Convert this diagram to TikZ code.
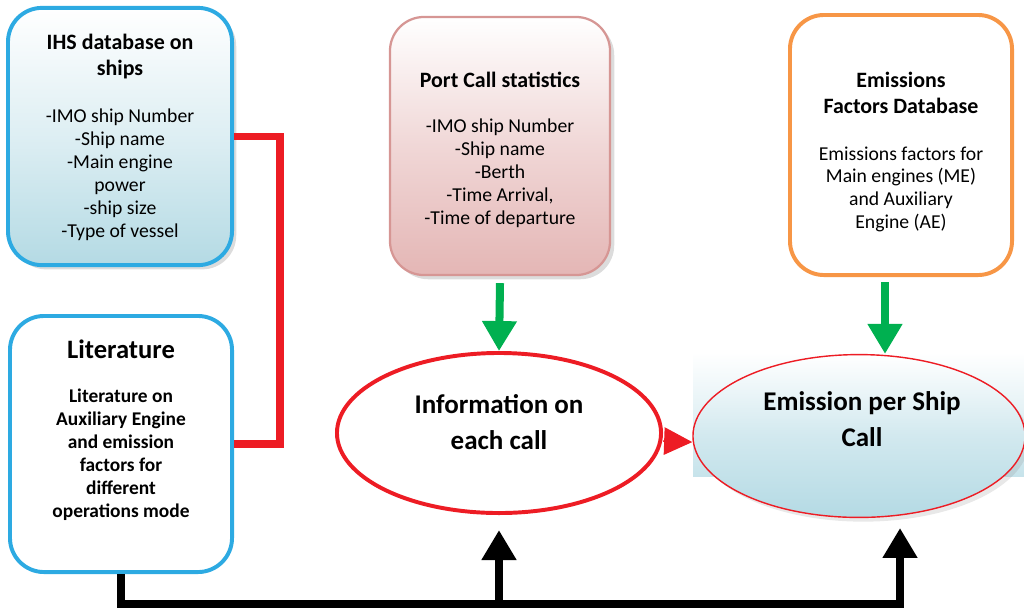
\documentclass[tikz,border=0pt]{standalone}
\usepackage{fontspec}
\setmainfont{Carlito}
\usetikzlibrary{shapes.geometric,arrows.meta,shadows}
\definecolor{boxblue}{RGB}{45,170,226}
\definecolor{fillblue}{RGB}{180,218,228}
\definecolor{boxpink}{RGB}{214,150,148}
\definecolor{fillpink}{RGB}{228,182,181}
\definecolor{boxorange}{RGB}{247,150,70}
\definecolor{linkred}{RGB}{237,28,36}
\definecolor{arrgreen}{RGB}{0,176,80}

\begin{document}
\begin{tikzpicture}[x=0.025cm,y=-0.025cm,line join=miter,
  srcbox/.style={draw,rounded corners=0.85cm,line width=2.8pt,inner sep=0pt},
  softshadow/.style={drop shadow={opacity=0.28,shadow xshift=3pt,shadow yshift=-3pt}},
  oval/.style={ellipse,draw=linkred,inner sep=0pt},
  headtxt/.style={align=center,font=\bfseries\fontsize{15.6}{18.5}\selectfont},
  bodytxt/.style={align=center,font=\fontsize{14}{16.4}\selectfont},
  ovaltxt/.style={align=center,font=\bfseries\fontsize{19.2}{25.6}\selectfont},
  redlink/.style={draw=linkred,line width=5pt},
  tipred/.style={draw=linkred,line width=1pt,-{Triangle[width=19.5pt,length=20pt]}},
  greenarrow/.style={draw=arrgreen,line width=5.7pt,-{Triangle[width=23.5pt,length=21.3pt]}},
  busline/.style={draw=black,line width=5.7pt}]
\useasboundingbox (0,0) rectangle (1024,608);

\node[srcbox,draw=boxblue,top color=white,bottom color=fillblue,middle color=fillblue!45,softshadow,
  minimum width=5.6cm,minimum height=6.43cm] (ihs) at (120,136.5) {};
\node[headtxt] (ihs head) at (120,57) {IHS database on\\ships};
\node[bodytxt] (ihs body) at (120,174.5) {-IMO ship Number\\-Ship name\\-Main engine\\power\\-ship size\\-Type of vessel};

\node[srcbox,draw=boxblue,fill=white,minimum width=5.55cm,minimum height=6.4cm] (lit) at (121,444) {};
\node[align=center,font=\bfseries\fontsize{18.9}{22}\selectfont] (lit head) at (121,349) {Literature};
\node[align=center,font=\bfseries\fontsize{13.8}{16.4}\selectfont] (lit body) at (121,454.5)
  {Literature on\\Auxiliary Engine\\and emission\\factors for\\different\\operations mode};

\node[srcbox,draw=boxpink,line width=1.6pt,top color=white,bottom color=fillpink,middle color=fillpink!55,softshadow,
  minimum width=5.5cm,minimum height=6.45cm] (port) at (500,146) {};
\node[headtxt] (port head) at (500,80) {Port Call statistics};
\node[bodytxt] (port body) at (500,173) {-IMO ship Number\\-Ship name\\-Berth\\-Time Arrival,\\-Time of departure};

\node[srcbox,draw=boxorange,fill=white,minimum width=5.55cm,minimum height=6.5cm] (efdb) at (901,145) {};
\node[headtxt] (efdb head) at (901,93) {Emissions\\Factors Database};
\node[align=center,font=\fontsize{14}{16.1}\selectfont] (efdb body) at (901,189)
  {Emissions factors for\\Main engines (ME)\\and Auxiliary\\Engine (AE)};

\node[oval,line width=2.8pt,fill=white,minimum width=8.1cm,minimum height=4cm] (info) at (499,433) {};
\node[ovaltxt] (info txt) at (499,422) {Information on\\each call};

\shade[top color=white,bottom color=fillblue!75] (693,352) rectangle (1024,476);
\node[oval,line width=1pt,top color=white,bottom color=fillblue,middle color=fillblue!60,
  drop shadow={opacity=0.18,shadow xshift=3pt,shadow yshift=-3pt},
  minimum width=8.3cm,minimum height=4.07cm] (emis) at (859,436) {};
\node[ovaltxt] (emis txt) at (862,419) {Emission per Ship\\Call};

\draw[redlink] (ihs.east) -- ++(46,0) |- (lit.east);
\draw[greenarrow] ([yshift=-5pt]port.south) -- (info.north);
\coordinate (efdrop) at (885,282);
\draw[greenarrow] (efdrop) -- (efdrop |- emis.north);
\draw[tipred] ([yshift=-5.7pt]info.east) -- ([yshift=-4.3pt]emis.west);

\coordinate (busend) at (900,604);
\draw[busline,-{Triangle[width=23.5pt,length=21.3pt]}] (lit.south) |- (busend) -- ++(0,-76);
\draw[busline,-{Triangle[width=23.5pt,length=21.3pt]}] (info.south |- busend) -- ([yshift=-10.7pt]info.south);
\end{tikzpicture}
\end{document}
